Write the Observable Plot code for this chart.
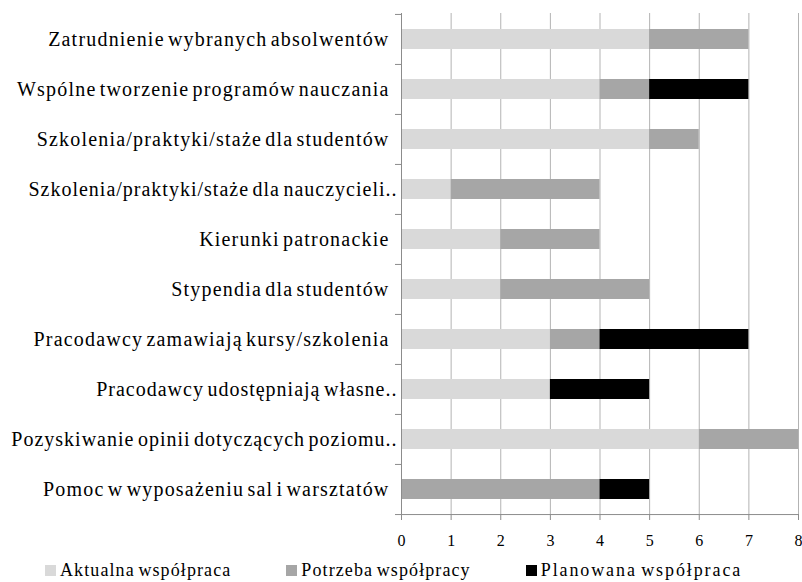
<!DOCTYPE html>
<html><head><meta charset="utf-8">
<script src="https://cdn.jsdelivr.net/npm/d3@7"></script>
<script src="https://cdn.jsdelivr.net/npm/@observablehq/plot@0.6"></script>
<style>
body{margin:0;background:#fff;font-family:"Liberation Serif",serif;}
#wrap{position:relative;width:802px;height:582px;}
#legend{position:absolute;left:45px;top:560px;display:flex;align-items:center;font-family:"Liberation Serif",serif;font-size:18px;letter-spacing:1.1px;word-spacing:-2px;color:#000;white-space:nowrap;}
.item{display:flex;align-items:center;margin-right:55px;}
.item:last-child span:last-child{letter-spacing:1.9px;}
.sw{width:11px;height:11px;margin-right:4px;}
</style></head><body><div id="wrap"><div id="chart"></div><div id="legend"></div></div>
<script>
const categories = [
  "Zatrudnienie wybranych absolwentów",
  "Wspólne tworzenie programów nauczania",
  "Szkolenia/praktyki/staże dla studentów",
  "Szkolenia/praktyki/staże dla nauczycieli..",
  "Kierunki patronackie",
  "Stypendia dla studentów",
  "Pracodawcy zamawiają kursy/szkolenia",
  "Pracodawcy udostępniają własne..",
  "Pozyskiwanie opinii dotyczących poziomu..",
  "Pomoc w wyposażeniu sal i warsztatów"
];
const aktualna  = [5, 4, 5, 1, 2, 2, 3, 3, 6, 0];
const potrzeba  = [2, 1, 1, 3, 2, 3, 1, 0, 2, 4];
const planowana = [0, 2, 0, 0, 0, 0, 3, 2, 0, 1];
const seriesNames = ["Aktualna współpraca", "Potrzeba współpracy", "Planowana współpraca"];
const seriesColors = ["#d9d9d9", "#a6a6a6", "#000000"];
const xTicks = [0, 1, 2, 3, 4, 5, 6, 7, 8];

const rows = [];
categories.forEach((c, i) => {
  [aktualna, potrzeba, planowana].forEach((arr, j) => {
    rows.push({category: c, series: seriesNames[j], value: arr[i]});
  });
});

const truncated = categories.filter(c => c.endsWith(".."));
const full = categories.filter(c => !c.endsWith(".."));

const W = 802, H = 560, mt = 13, mb = 46;
const half = (H - mt - mb) / categories.length / 2;

const plot = Plot.plot({
  width: W, height: H,
  marginLeft: 401, marginRight: 4, marginTop: mt, marginBottom: mb,
  style: {fontFamily: "'Liberation Serif', serif", fontSize: "16px", color: "#000", background: "#fff"},
  x: {domain: [0, 8], ticks: xTicks, label: null},
  y: {domain: categories, paddingInner: 0.6, paddingOuter: 0.3, label: null},
  color: {domain: seriesNames, range: seriesColors},
  marks: [
    Plot.ruleX(xTicks.slice(1), {stroke: "#b3b3b3", strokeWidth: 1}),
    Plot.barX(rows, Plot.stackX({x: "value", y: "category", fill: "series", order: seriesNames})),
    Plot.ruleX([0], {stroke: "#8c8c8c", strokeWidth: 1}),
    Plot.ruleY(categories, {y: d => d, dy: -half, x1: 0, x2: 0, insetLeft: -6, stroke: "#8c8c8c"}),
    Plot.ruleY([categories[categories.length - 1]], {y: d => d, dy: half, x1: 0, x2: 8, insetLeft: -6, stroke: "#8c8c8c"}),
    Plot.axisX({ticks: xTicks, tickSize: 6, tickPadding: 14, stroke: "#8c8c8c", fill: "#000", fontSize: 16, label: null}),
    Plot.axisY(full, {tickSize: 0, tickPadding: 12, fill: "#000", fontSize: 20, label: null}),
    Plot.axisY(truncated, {tickSize: 0, tickPadding: 4, fill: "#000", fontSize: 20, label: null})
  ]
});
d3.select(plot).selectAll("text").style("font-family", "'Liberation Serif', serif");
d3.select(plot).selectAll("text")
  .filter(function() { return full.includes(this.textContent); })
  .style("letter-spacing", "1.2px").style("word-spacing", "-3px");
d3.select(plot).selectAll("text")
  .filter(function() { return truncated.includes(this.textContent); })
  .style("letter-spacing", "1px").style("word-spacing", "-2.5px");
document.getElementById("chart").appendChild(plot);

const legend = document.getElementById("legend");
seriesNames.forEach((n, i) => {
  const it = document.createElement("div");
  it.className = "item";
  const sw = document.createElement("span");
  sw.className = "sw";
  sw.style.background = seriesColors[i];
  const tx = document.createElement("span");
  tx.textContent = n;
  it.appendChild(sw); it.appendChild(tx);
  legend.appendChild(it);
});
</script></body></html>
